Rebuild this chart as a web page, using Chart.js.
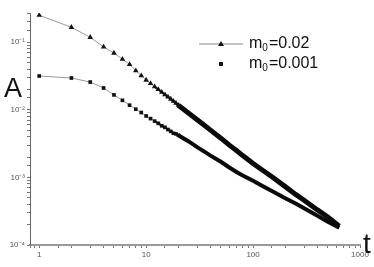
<!DOCTYPE html>
<html>
<head>
<meta charset="utf-8">
<script src="https://cdn.jsdelivr.net/npm/chart.js@4.4.1/dist/chart.umd.min.js"></script>
<style>
  body { margin: 0; background: #fff; }
  #wrap { width: 374px; height: 267px; position: relative; }
</style>
</head>
<body>
<div id="wrap"><canvas id="grafico"></canvas></div>
<script>
// tempos (t) e valores
const tempos = [1, 2, 3, 4, 5, 6, 7, 8, 9, 10, 11, 12, 13, 14, 15, 16, 17, 18, 19, 20,
    25, 30, 35, 40, 50, 60, 70, 80, 100, 120, 150, 200, 250, 300, 400, 500, 640];
const serieM002 = [0.25, 0.166, 0.118, 0.085, 0.069, 0.056, 0.047, 0.038, 0.032, 0.0275,
    0.0245, 0.0219, 0.0200, 0.0182, 0.0167, 0.0155, 0.0144, 0.0134, 0.0125, 0.0117,
    0.0089, 0.0071, 0.0059, 0.0050, 0.0038, 0.0030, 0.0025, 0.0021, 0.0016, 0.00131,
    0.00102, 0.00073, 0.00056, 0.00046, 0.00033, 0.00026, 0.00019];
const serieM0001 = [0.0316, 0.0295, 0.0257, 0.021, 0.0166, 0.0138, 0.0117, 0.0102, 0.0091, 0.0081,
    0.0074, 0.0068, 0.0063, 0.0058, 0.0055, 0.0051, 0.0048, 0.0045, 0.0044, 0.0042,
    0.0034, 0.0028, 0.0024, 0.0021, 0.0017, 0.0014, 0.0012, 0.00107, 0.00089, 0.00076,
    0.00063, 0.00049, 0.00041, 0.00035, 0.00027, 0.00022, 0.00018];
const rotulosX = [1, 10, 100, 1000];
const rotulosY = ['10\u207B\u00B9', '10\u207B\u00B2', '10\u207B\u00B3', '10\u207B\u2074'];

function pontos(valores) {
    return tempos.map((t, i) => ({ x: t, y: valores[i] }));
}

function ehPotencia(v) {
    const l = Math.log10(v);
    return Math.abs(l - Math.round(l)) < 1e-6;
}

// linha fina cinza no começo, faixa preta grossa onde os pontos se amontoam
function estiloSerie(forma, raio, larguraFaixa) {
    return {
        pointStyle: forma,
        pointRadius: c => (c.raw && c.raw.x <= 20 ? raio : 0),
        pointBackgroundColor: '#111',
        pointBorderColor: '#111',
        pointBorderWidth: 0,
        borderColor: '#999',
        borderWidth: 1,
        segment: {
            borderWidth: c => (c.p0.parsed.x >= 20 ? larguraFaixa : (c.p0.parsed.x >= 12 ? 2 : 1)),
            borderColor: c => (c.p0.parsed.x >= 12 ? '#0a0a0a' : '#999')
        },
        tension: 0
    };
}

// textos extras: A, t e a legenda
const textosExtras = {
    id: 'textosExtras',
    afterDraw(chart) {
        const c = chart.ctx;
        c.save();
        c.fillStyle = '#111';
        c.textBaseline = 'middle';
        c.font = '27px "Liberation Sans", Arial, sans-serif';
        c.fillText('A', 4, 90);
        c.font = '28px "Liberation Sans", Arial, sans-serif';
        c.fillText('t', 363, 245);

        // legenda
        c.strokeStyle = '#888';
        c.lineWidth = 1;
        c.beginPath();
        c.moveTo(199, 44);
        c.lineTo(243, 44);
        c.stroke();
        c.beginPath();
        c.moveTo(221, 41);
        c.lineTo(224, 46);
        c.lineTo(218, 46);
        c.closePath();
        c.fill();
        c.fillRect(219, 62, 4, 4);

        const linhas = [['0.02', 44], ['0.001', 64]];
        linhas.forEach(([v, y]) => {
            let x = 249;
            c.font = '16px "Liberation Sans", Arial, sans-serif';
            c.fillText('m', x, y);
            x += c.measureText('m').width;
            c.font = '10px "Liberation Sans", Arial, sans-serif';
            c.fillText('0', x, y + 4);
            x += c.measureText('0').width + 1;
            c.font = '16px "Liberation Sans", Arial, sans-serif';
            c.fillText('=' + v, x, y);
        });
        c.restore();
    }
};

const ctx = document.getElementById('grafico').getContext('2d');
const grafico = new Chart(ctx, {
    type: 'line',
    data: {
        datasets: [
            Object.assign({ label: 'm0=0.02', data: pontos(serieM002) }, estiloSerie('triangle', 3.2, 5)),
            Object.assign({ label: 'm0=0.001', data: pontos(serieM0001) }, estiloSerie('rect', 2.6, 4))
        ]
    },
    options: {
        responsive: true,
        maintainAspectRatio: false,
        animation: false,
        layout: { padding: { top: 13, right: 14, left: 0, bottom: 0 } },
        plugins: {
            legend: { display: false },
            tooltip: { enabled: false }
        },
        scales: {
            x: {
                type: 'logarithmic',
                min: 0.82,
                max: 1000,
                afterFit: s => { s.height = 22; },
                ticks: {
                    autoSkip: false,
                    maxRotation: 0,
                    padding: 2,
                    color: '#555',
                    font: { size: 8, family: '"Liberation Sans", Arial, sans-serif' },
                    callback: v => (ehPotencia(v) && rotulosX.includes(Math.round(v)) ? String(Math.round(v)) : '')
                },
                grid: { drawOnChartArea: false, tickLength: 3, color: '#777' },
                border: { color: '#999', width: 2 }
            },
            y: {
                type: 'logarithmic',
                min: 0.0001,
                max: 0.27,
                afterFit: s => { s.width = 30; },
                ticks: {
                    autoSkip: false,
                    padding: 2,
                    color: '#555',
                    font: { size: 8, family: '"Liberation Sans", Arial, sans-serif' },
                    callback: v => {
                        if (!ehPotencia(v)) return '';
                        const e = -Math.round(Math.log10(v));
                        return rotulosY[e - 1] || '';
                    }
                },
                grid: { drawOnChartArea: false, tickLength: 3, color: '#777' },
                border: { color: '#666', width: 1 }
            }
        }
    },
    plugins: [textosExtras]
});
</script>
</body>
</html>
